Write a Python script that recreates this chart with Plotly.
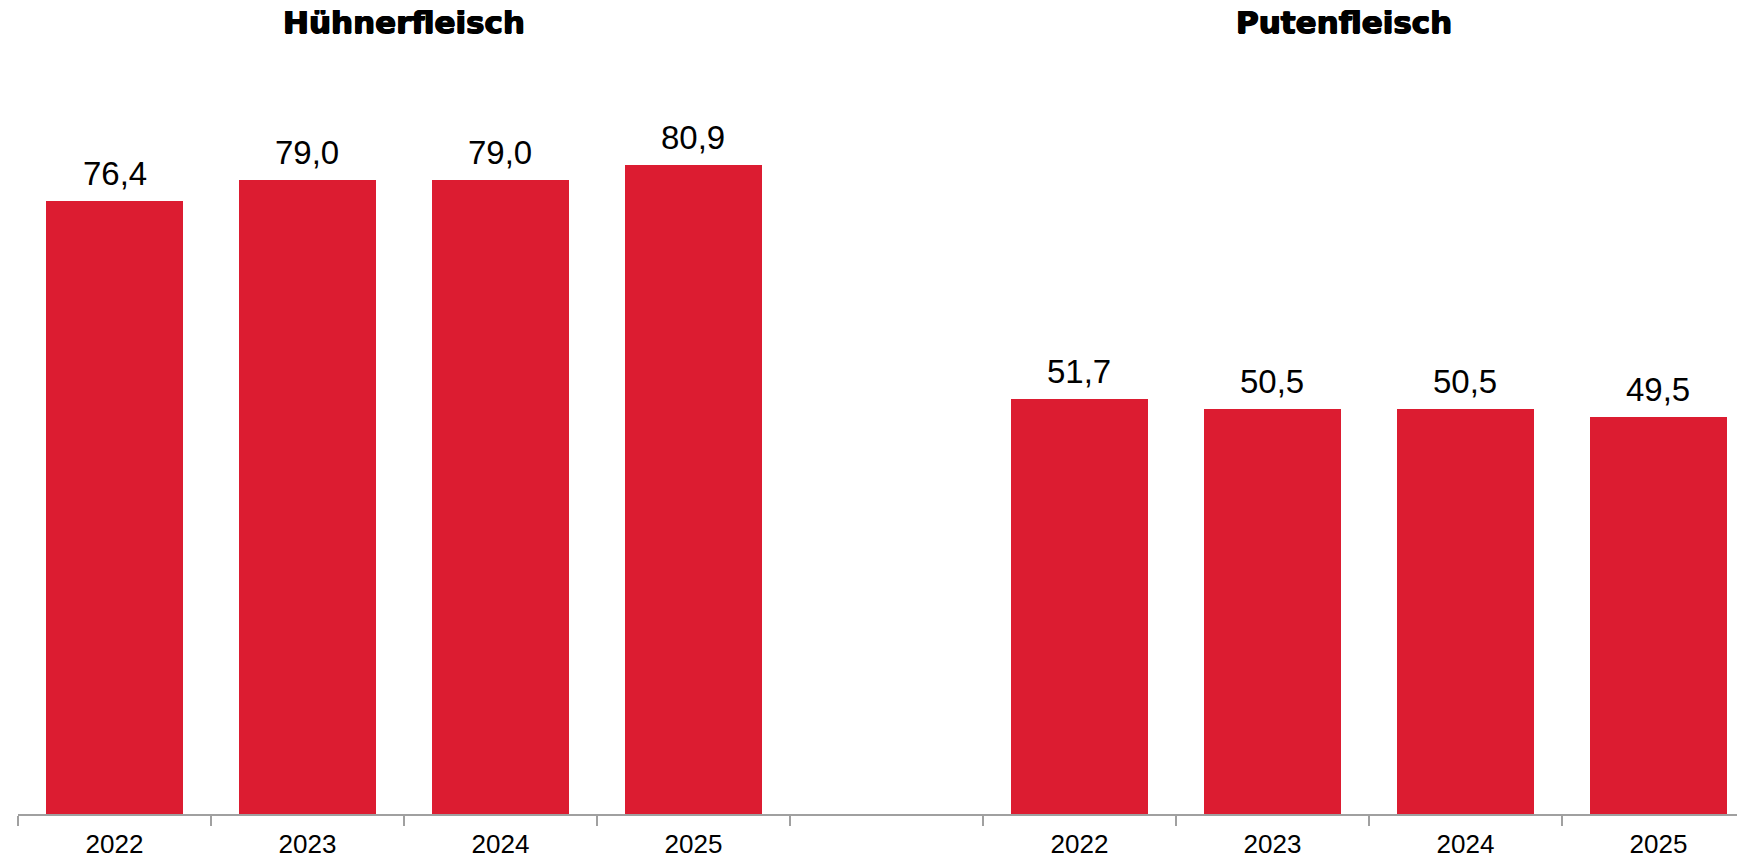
import plotly.graph_objects as go

years = ["2022", "2023", "2024", "2025"]
groups = ["Hühnerfleisch", "Putenfleisch"]
huhn = [76.4, 79.0, 79.0, 80.9]
pute = [51.7, 50.5, 50.5, 49.5]

# positions: group 1 at slots 0..3, empty slot 4, group 2 at slots 5..8
x_huhn = [0, 1, 2, 3]
x_pute = [5, 6, 7, 8]
xs = x_huhn + x_pute
vals = huhn + pute
labels = years + years

RED = "#DC1C31"

fig = go.Figure()
fig.add_trace(go.Bar(x=xs, y=vals, width=0.714, marker=dict(color=RED, line=dict(width=0)),
                     hoverinfo="skip", showlegend=False))

annotations = []
for x, v in zip(xs, vals):
    annotations.append(dict(x=x, y=v, xref="x", yref="y", text=f"{v:.1f}".replace(".", ","),
                            showarrow=False, yanchor="bottom", yshift=7,
                            font=dict(family="Liberation Sans, Arial, sans-serif", size=33, color="#000")))
title_font = dict(family="DejaVu Sans, sans-serif", size=31, color="#000", weight="bold",
                  shadow="0.7px 0 0 #000, -0.7px 0 0 #000, 0 0.5px 0 #000")
annotations.append(dict(x=1.5, y=1, xref="x", yref="paper", text=groups[0], showarrow=False,
                        yanchor="middle", yshift=-22, font=title_font))
annotations.append(dict(x=6.37, y=1, xref="x", yref="paper", text=groups[1], showarrow=False,
                        yanchor="middle", yshift=-22, font=title_font))

fig.update_layout(
    width=1737, height=859,
    margin=dict(l=18, r=0, t=0, b=45, autoexpand=False),
    plot_bgcolor="white", paper_bgcolor="white",
    annotations=annotations,
    bargap=0,
    xaxis=dict(
        range=[-0.5, 8.407],
        tickmode="array", tickvals=xs, ticktext=labels,
        ticks="", showgrid=False, zeroline=False, automargin=False,
        showline=True, linecolor="#A0A0A0", linewidth=1.5,
        ticklabelstandoff=6,
        tickfont=dict(family="Liberation Sans, Arial, sans-serif", size=26, color="#000"),
        minor=dict(tickmode="linear", tick0=-0.5, dtick=1, ticks="outside", ticklen=10,
                   tickcolor="#A0A0A0", tickwidth=1.5, showgrid=False),
        fixedrange=True,
    ),
    yaxis=dict(range=[0, 101.4], visible=False, fixedrange=True),
)

fig.write_html("out.html", config={"displayModeBar": False},
               post_script="document.body.style.margin='0';document.body.style.overflow='hidden';")
